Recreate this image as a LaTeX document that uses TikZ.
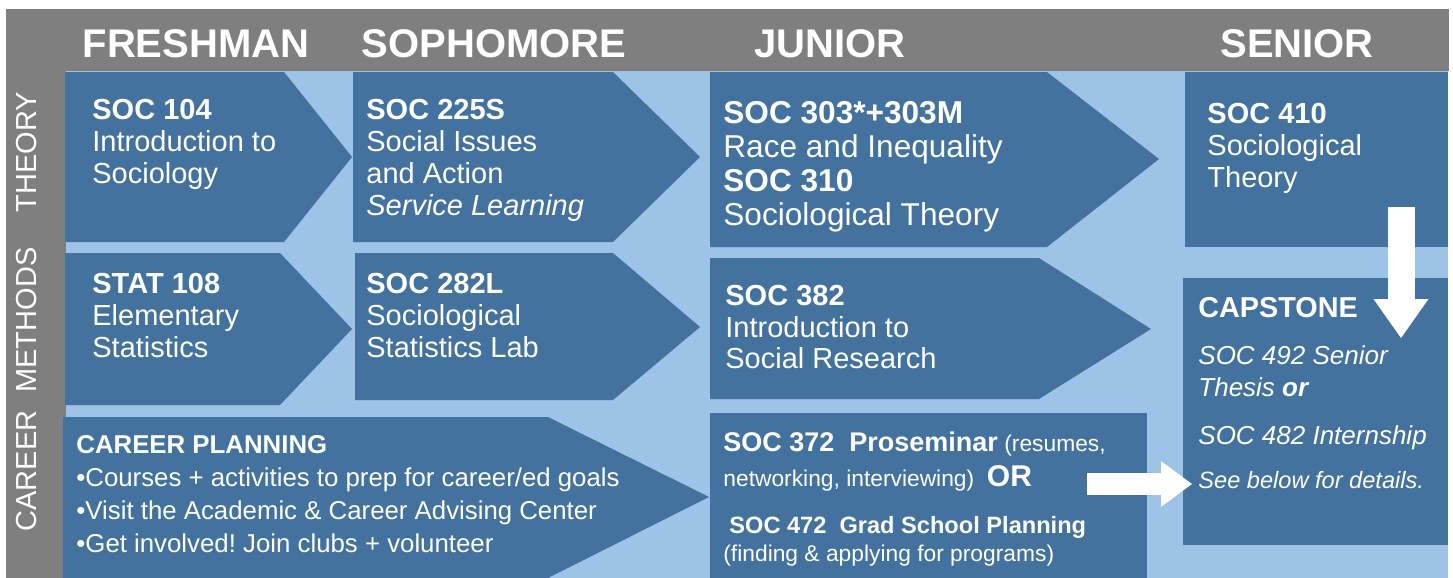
\documentclass[tikz,border=0pt]{standalone}
\usepackage{fontspec}
\setmainfont{Liberation Sans}
\usetikzlibrary{arrows.meta}
\definecolor{gris}{RGB}{127,127,127}
\definecolor{bleuclair}{RGB}{157,195,230}
\definecolor{bleu}{RGB}{67,114,158}
\frenchspacing

\begin{document}
\begin{tikzpicture}[x=0.5pt,y=-0.5pt]
% Styles (MODIFIABLES)
\tikzstyle{bloc}=[fill=bleu]
\tikzstyle{annee}=[white,anchor=base,font=\bfseries\fontsize{20}{24}\selectfont]
\tikzstyle{axe}=[white,rotate=90,inner sep=0pt,font=\fontsize{14.5}{16}\selectfont]
\tikzstyle{texte}=[white,anchor=north west,inner sep=0pt,align=left,font=\fontsize{14.5}{16}\selectfont]
\tikzstyle{fleche}=[white]
% Dimensions (MODIFIABLES)
\def\Gauche{6}
\def\Droite{1448}
\def\Haut{9}
\def\Bas{578}
\def\Entete{71}
\def\Marge{66}
\useasboundingbox (0,0) rectangle (1453,578);
% Fond
\fill[gris] (\Gauche,\Haut) rectangle (\Droite+1,\Entete);
\fill[gris] (\Gauche,\Entete) rectangle (\Marge,\Bas);
\fill[bleuclair] (\Marge,\Entete) rectangle (\Droite,\Bas);
% Blocs : theorie
\fill[bloc] (65,72) -- (284,72) -- (352,157) -- (284,242) -- (65,242) -- cycle;
\fill[bloc] (353,72) -- (613,72) -- (700,157) -- (613,242) -- (353,242) -- cycle;
\fill[bloc] (710,72) -- (1047,72) -- (1159,159) -- (1047,247) -- (710,247) -- cycle;
\fill[bloc] (1185,72) rectangle (\Droite,247);
% Blocs : methodes
\fill[bloc] (65,253) -- (280,253) -- (352,329) -- (280,405) -- (65,405) -- cycle;
\fill[bloc] (355,253) -- (613,253) -- (700,327) -- (613,400) -- (355,400) -- cycle;
\fill[bloc] (710,258) -- (1039,258) -- (1151,329) -- (1039,399) -- (710,399) -- cycle;
\fill[bloc] (1183,278) rectangle (\Droite,545);
% Blocs : carriere
\fill[bloc] (63,417) -- (548,417) -- (709,497) -- (548,578) -- (63,578) -- cycle;
\fill[bloc] (710,413) rectangle (1147,\Bas);
% Annees
\node[annee] (freshman) at (196,57) {FRESHMAN};
\node[annee] (sophomore) at (494,57) {SOPHOMORE};
\node[annee] (junior) at (830,57) {JUNIOR};
\node[annee] (senior) at (1297,57) {SENIOR};
% Axes
\node[axe] (theory) at (27,152) {THEORY};
\node[axe] (methods) at (27,320) {METHODS};
\node[axe] (career) at (27,471) {CAREER};
% Cours
\node[texte] (soc104) at (92,99) {\textbf{SOC 104}\\Introduction to\\Sociology};
\node[texte] (soc225) at (366,99) {\textbf{SOC 225S}\\Social Issues\\and Action\\\textit{Service Learning}};
\node[texte,font=\fontsize{15.8}{17}\selectfont] (soc303) at (723,101)
  {\textbf{SOC 303*+303M}\\Race and Inequality\\\textbf{SOC 310}\\Sociological Theory};
\node[texte] (soc410) at (1207,103) {\textbf{SOC 410}\\Sociological\\Theory};
\node[texte] (stat108) at (92,273) {\textbf{STAT 108}\\Elementary\\Statistics};
\node[texte] (soc282) at (366,273) {\textbf{SOC 282L}\\Sociological\\Statistics Lab};
\node[texte,font=\fontsize{14.5}{15.8}\selectfont] (soc382) at (725,285)
  {\textbf{SOC 382}\\Introduction to\\Social Research};
\node[texte,font=\itshape\fontsize{13}{16}\selectfont] (capstone) at (1198,297)
  {{\upshape\bfseries\fontsize{14.4}{16}\selectfont CAPSTONE}\\[7.5pt]
   SOC 492 Senior\\Thesis \textbf{or}\\[8pt]SOC 482 Internship\\[6pt]
   {\fontsize{11.8}{16}\selectfont See below for details.}};
\node[texte,font=\fontsize{12.9}{16.5}\selectfont] (planning) at (76,435)
  {\textbf{CAREER PLANNING}\\
   \textbullet Courses + activities to prep for career/ed goals\\
   \textbullet Visit the Academic \& Career Advising Center\\
   \textbullet Get involved! Join clubs + volunteer};
\node[texte,font=\fontsize{11.4}{17.5}\selectfont] (soc372) at (723,432)
  {{\bfseries\fontsize{13.5}{17.5}\selectfont SOC 372\ \ Proseminar} (resumes,\\
   networking, interviewing)\ \ {\bfseries\fontsize{15}{17.5}\selectfont OR}\\[6pt]
   \hspace{3pt}{\bfseries\fontsize{11.8}{17.5}\selectfont SOC 472\ \ Grad School Planning}\\[-3.5pt]
   (finding \& applying for programs)};
% Fleches
\coordinate (hautTheorie) at (1401,207);
\coordinate (basCapstone) at (1401,338);
\coordinate (departSeminaire) at (1087,484);
\coordinate (arriveeCapstone) at (1192,484);
\draw[fleche,line width=13.5pt,-{Triangle[length=19.5pt,width=27.5pt,line width=0pt]}] (hautTheorie) -- (basCapstone);
\draw[fleche,line width=11pt,-{Triangle[length=15.5pt,width=23pt,line width=0pt]}] (departSeminaire) -- (arriveeCapstone);
\end{tikzpicture}
\end{document}
